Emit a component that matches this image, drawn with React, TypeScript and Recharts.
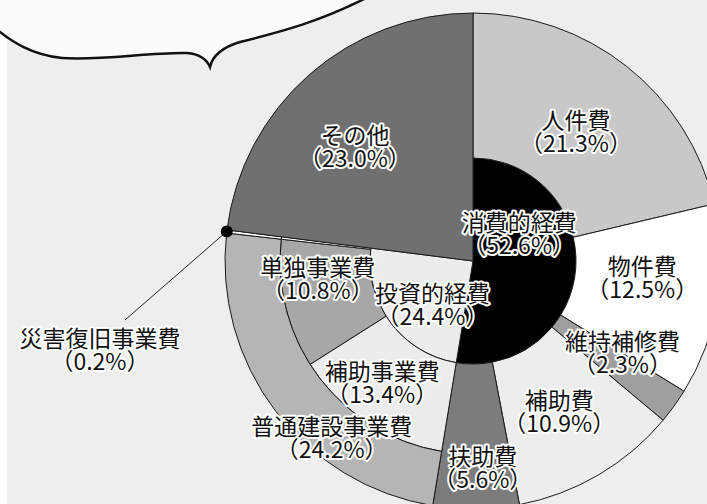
import { PieChart, Pie, Cell } from 'recharts'

// 性質別歳出の内訳（%）
const expenseTypes = ['消費的経費', '投資的経費', 'その他']
const expenseShares = [52.6, 24.4, 23.0]

const consumptionItems = ['人件費', '物件費', '維持補修費', '補助費', '扶助費']
const consumptionShares = [21.3, 12.5, 2.3, 10.9, 5.6]

const investmentItems = ['普通建設事業費', '災害復旧事業費']
const investmentShares = [24.2, 0.2]

const constructionItems = ['補助事業費', '単独事業費']
const constructionShares = [13.4, 10.8]

const GAP = '_gap'
const FONT = '"Noto Sans CJK JP", "Noto Sans", sans-serif'
const RAD = Math.PI / 180

const COLORS: Record<string, string> = {
  消費的経費: '#000000', 投資的経費: '#ececec', その他: '#707070',
  人件費: '#c8c8c8', 物件費: '#ffffff', 維持補修費: '#9f9f9f', 補助費: '#ededed', 扶助費: '#7c7c7c',
  補助事業費: '#ececec', 単独事業費: '#a7a7a7',
  普通建設事業費: '#b5b5b5', 災害復旧事業費: '#ffffff',
}

// label placement: radius from centre, angular nudge (deg, clockwise)
const LABEL_AT: Record<string, { r: number; nudge: number }> = {
  人件費: { r: 166, nudge: 0 }, 物件費: { r: 170, nudge: -4 }, 維持補修費: { r: 175, nudge: -4.5 },
  補助費: { r: 173, nudge: 0.5 }, 扶助費: { r: 206, nudge: -2 },
  消費的経費: { r: 54, nudge: -36 }, 投資的経費: { r: 59, nudge: -10 },
  補助事業費: { r: 151, nudge: 3.5 }, 単独事業費: { r: 156, nudge: 7 },
  普通建設事業費: { r: 225, nudge: -14 }, その他: { r: 165, nudge: -4.3 },
}
const CALLOUT = { name: '災害復旧事業費', lineEnd: [-348, 59], text: [-373, 87] }

const row = (names: string[], values: number[]) => names.map((name, i) => ({ name, value: values[i] }))
const pad = (v: number) => ({ name: GAP, value: Math.round(v * 10) / 10 })

const [consumption, investment, other] = expenseShares

const rings = [
  { id: 'inner', inner: 0, outer: 103, labels: expenseTypes.slice(0, 2),
    data: [...row(expenseTypes.slice(0, 2), expenseShares.slice(0, 2)), pad(other)] },
  { id: 'consumption', inner: 103, outer: 248, labels: consumptionItems,
    data: [...row(consumptionItems, consumptionShares), pad(investment + other)] },
  { id: 'construction', inner: 103, outer: 193, labels: constructionItems,
    data: [pad(consumption), ...row(constructionItems, constructionShares),
      { name: investmentItems[1], value: investmentShares[1] }, pad(other)] },
  { id: 'investment', inner: 193, outer: 248, labels: investmentItems,
    data: [pad(consumption), ...row(investmentItems, investmentShares), pad(other)] },
  { id: 'other', inner: 0, outer: 248, labels: ['その他'],
    data: [pad(consumption + investment), { name: 'その他', value: other }] },
]

const CX = 473
const CY = 261

function TwoLine({ x, y, name, value }: { x: number; y: number; name: string; value: number }) {
  const style = { fontFamily: FONT, fontSize: 23, fill: '#111', stroke: '#fff', strokeWidth: 4,
    paintOrder: 'stroke' as const, strokeLinejoin: 'round' as const }
  return (
    <g>
      <text x={x} y={y - 11.5} textAnchor="middle" dominantBaseline="central" style={style}>{name}</text>
      <text x={x} y={y + 11.5} textAnchor="middle" dominantBaseline="central" style={style}>{`（${value.toFixed(1)}%）`}</text>
    </g>
  )
}

function renderLabel(props: any, names: string[]) {
  const { cx, cy, midAngle, outerRadius } = props
  const name = props.payload?.name ?? props.name
  const value = props.payload?.value ?? props.value
  if (!names.includes(name)) return null
  if (name === CALLOUT.name) {
    const x0 = cx + outerRadius * Math.cos(midAngle * RAD)
    const y0 = cy - outerRadius * Math.sin(midAngle * RAD)
    return (
      <g>
        <line x1={x0} y1={y0} x2={cx + CALLOUT.lineEnd[0]} y2={cy + CALLOUT.lineEnd[1]} stroke="#222" strokeWidth={1} />
        <circle cx={x0} cy={y0} r={6} fill="#000" />
        <TwoLine x={cx + CALLOUT.text[0]} y={cy + CALLOUT.text[1]} name={name} value={value} />
      </g>
    )
  }
  const at = LABEL_AT[name]
  if (!at) return null
  const a = (midAngle - at.nudge) * RAD
  return <TwoLine x={cx + at.r * Math.cos(a)} y={cy - at.r * Math.sin(a)} name={name} value={value} />
}

export default function App() {
  return (
    <div style={{ position: 'absolute', left: 0, top: 0, width: 707, height: 504, background: '#fff', overflow: 'hidden' }}>
      <div style={{ position: 'absolute', left: 7, top: 0, right: 0, bottom: 0, background: '#eeeeee' }} />
      <div style={{ position: 'absolute', left: 0, top: 0 }}>
        <PieChart width={707} height={504} margin={{ top: 0, right: 0, bottom: 0, left: 0 }}>
          {rings.map(ring => (
            <Pie key={ring.id} data={ring.data} dataKey="value" nameKey="name" cx={CX} cy={CY}
              innerRadius={ring.inner} outerRadius={ring.outer} startAngle={90} endAngle={-270}
              stroke="#1a1a1a" strokeWidth={1} labelLine={false} isAnimationActive={false}>
              {ring.data.map((d, i) => (
                <Cell key={i} fill={d.name === GAP ? 'none' : COLORS[d.name]} stroke={d.name === GAP ? 'none' : '#1a1a1a'} />
              ))}
            </Pie>
          ))}
          {/* label pass drawn on top of every ring */}
          {rings.map(ring => (
            <Pie key={ring.id + '-labels'} data={ring.data} dataKey="value" nameKey="name" cx={CX} cy={CY}
              innerRadius={ring.inner} outerRadius={ring.outer} startAngle={90} endAngle={-270}
              fill="none" stroke="none" labelLine={false} isAnimationActive={false}
              label={(p: any) => renderLabel(p, ring.labels)} />
          ))}
        </PieChart>
      </div>
      <svg width={707} height={504} style={{ position: 'absolute', left: 0, top: 0, pointerEvents: 'none' }}>
        <path d="M -5 -5 L -5 28 C 12 42 32 55 62 58 C 100 61 150 52 187 53 C 200 54 207 60 210 67 C 212 58 220 48 240 42 C 280 32 320 22 372 -5 Z"
          fill="#fbfbfb" stroke="#111" strokeWidth={2.5} />
      </svg>
    </div>
  )
}
